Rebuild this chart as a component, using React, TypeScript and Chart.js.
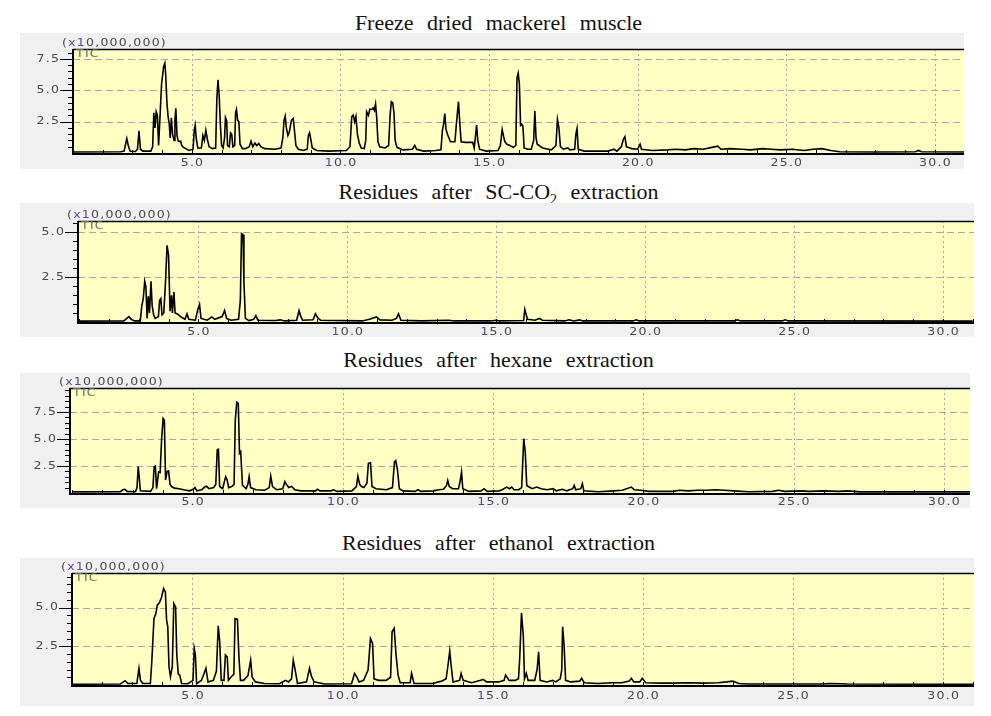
import React, { useEffect, useRef } from 'react';
import { Chart, registerables } from 'chart.js';

Chart.register(...registerables);

// ---- text / ticks ----
const TITLES = [
  'Freeze dried mackerel muscle',
  'Residues after SC-CO|2| extraction',
  'Residues after hexane extraction',
  'Residues after ethanol extraction',
];
const X_TICK_LABELS = [5, 10, 15, 20, 25, 30];
const Y_TICK_LABELS = [2.5, 5.0, 7.5];
const Y_UNIT_LABEL = '(x10,000,000)';
const TRACE_LABEL = 'TIC';

// ---- data: [retention time (min), intensity (x10,000,000)] ----
const FREEZE_DRIED: [number, number][] = [
  [1.0, 0.08], [2.6, 0.1], [2.72, 0.15], [2.81, 1.15], [2.86, 0.6], [2.92, 0.15], [3.1, 0.12], [3.17, 0.3],
  [3.22, 1.76], [3.27, 0.3], [3.35, 0.15], [3.62, 0.15], [3.68, 0.5], [3.72, 3.2], [3.76, 2.0], [3.8, 3.3],
  [3.84, 3.0], [3.88, 0.6], [3.93, 3.0], [3.98, 5.5], [4.05, 6.9], [4.09, 7.16], [4.12, 6.2], [4.16, 4.0],
  [4.2, 2.9], [4.24, 2.3], [4.27, 1.2], [4.31, 2.8], [4.35, 1.5], [4.4, 1.0], [4.43, 2.6], [4.46, 3.56],
  [4.5, 1.4], [4.54, 0.95], [4.58, 0.9], [4.62, 0.95], [4.66, 0.6], [4.72, 0.45], [4.9, 0.2], [5.04, 0.3],
  [5.08, 1.8], [5.11, 2.2], [5.15, 1.1], [5.2, 0.4], [5.32, 0.4], [5.37, 1.4], [5.42, 1.0], [5.47, 1.8],
  [5.52, 1.1], [5.58, 0.5], [5.7, 0.35], [5.8, 0.4], [5.84, 4.35], [5.88, 5.83], [5.92, 4.5], [5.96, 2.2],
  [6.0, 0.6], [6.05, 0.4], [6.1, 1.2], [6.13, 2.83], [6.17, 2.6], [6.2, 0.6], [6.26, 0.5], [6.3, 1.6],
  [6.34, 1.5], [6.38, 0.5], [6.44, 0.6], [6.47, 3.2], [6.5, 3.46], [6.54, 2.6], [6.58, 2.5], [6.62, 0.7],
  [6.7, 0.35], [6.8, 0.35], [6.93, 0.5], [6.99, 0.94], [7.05, 0.5], [7.12, 0.8], [7.18, 0.6], [7.25, 0.75],
  [7.32, 0.5], [7.45, 0.35], [7.8, 0.3], [8.0, 0.4], [8.06, 1.2], [8.1, 2.6], [8.14, 2.94], [8.18, 2.0],
  [8.23, 1.4], [8.28, 1.7], [8.35, 2.6], [8.41, 2.75], [8.46, 1.6], [8.5, 0.6], [8.58, 0.3], [8.75, 0.2],
  [8.88, 0.3], [8.92, 1.4], [8.96, 1.6], [9.0, 1.1], [9.05, 0.4], [9.2, 0.2], [9.6, 0.15], [10.2, 0.2],
  [10.32, 0.5], [10.38, 2.9], [10.43, 3.02], [10.48, 2.5], [10.52, 2.9], [10.57, 1.5], [10.63, 0.8], [10.7, 0.4],
  [10.8, 0.35], [10.85, 1.0], [10.88, 3.29], [10.94, 3.0], [10.99, 3.5], [11.05, 3.47], [11.1, 3.6], [11.14, 3.4],
  [11.18, 3.9], [11.22, 2.8], [11.26, 0.9], [11.32, 0.5], [11.5, 0.4], [11.62, 0.6], [11.67, 3.0], [11.71, 4.09],
  [11.76, 4.0], [11.8, 3.2], [11.84, 1.0], [11.9, 0.45], [12.1, 0.25], [12.42, 0.3], [12.5, 0.6], [12.56, 0.3],
  [12.8, 0.15], [13.2, 0.2], [13.38, 0.25], [13.43, 1.8], [13.47, 2.3], [13.51, 3.15], [13.55, 1.9], [13.6, 1.5],
  [13.65, 1.2], [13.7, 0.9], [13.85, 0.9], [13.9, 2.3], [13.97, 4.09], [14.02, 2.2], [14.06, 0.9], [14.2, 0.85],
  [14.45, 0.85], [14.5, 0.4], [14.55, 1.5], [14.58, 2.22], [14.62, 1.0], [14.68, 0.3], [14.9, 0.15], [15.3, 0.2],
  [15.38, 0.6], [15.44, 1.87], [15.49, 1.3], [15.53, 0.9], [15.6, 0.7], [15.7, 0.6], [15.82, 0.45], [15.9, 0.6],
  [15.94, 6.0], [15.98, 6.36], [16.02, 5.5], [16.06, 2.2], [16.1, 2.3], [16.14, 2.1], [16.18, 0.4], [16.3, 0.3],
  [16.42, 0.3], [16.5, 1.0], [16.54, 3.34], [16.58, 1.2], [16.62, 0.7], [16.8, 0.4], [17.0, 0.3], [17.1, 0.25],
  [17.25, 0.6], [17.3, 2.67], [17.35, 2.0], [17.4, 0.5], [17.5, 0.3], [17.65, 0.4], [17.72, 0.25], [17.88, 0.3],
  [17.92, 1.5], [17.96, 1.95], [18.0, 0.3], [18.2, 0.15], [19.0, 0.15], [19.2, 0.3], [19.3, 0.15], [19.45, 0.5],
  [19.52, 1.1], [19.57, 1.3], [19.62, 0.5], [19.8, 0.35], [20.0, 0.3], [20.08, 0.7], [20.13, 0.3], [20.5, 0.2],
  [21.0, 0.25], [21.3, 0.3], [21.6, 0.25], [21.9, 0.35], [22.2, 0.3], [22.5, 0.45], [22.7, 0.55], [22.8, 0.3],
  [23.1, 0.35], [23.5, 0.3], [23.8, 0.25], [24.2, 0.35], [24.5, 0.3], [24.8, 0.25], [25.2, 0.3], [25.6, 0.2],
  [25.9, 0.3], [26.2, 0.35], [26.5, 0.2], [26.8, 0.1], [28.0, 0.08], [29.35, 0.1], [29.45, 0.2], [29.55, 0.1],
  [31.0, 0.08],
];

const SC_CO2: [number, number][] = [
  [1.0, 0.05], [2.5, 0.06], [2.6, 0.2], [2.67, 0.3], [2.75, 0.15], [2.85, 0.06], [3.05, 0.06], [3.1, 0.87],
  [3.15, 1.3], [3.2, 2.26], [3.24, 1.95], [3.28, 0.2], [3.32, 1.43], [3.36, 0.5], [3.41, 2.26], [3.45, 0.9],
  [3.5, 0.4], [3.55, 0.2], [3.66, 0.3], [3.7, 1.2], [3.74, 1.3], [3.78, 0.4], [3.84, 0.5], [3.9, 2.3],
  [3.95, 4.26], [4.0, 3.7], [4.05, 0.6], [4.1, 1.48], [4.13, 0.5], [4.18, 1.67], [4.22, 0.5], [4.3, 0.45],
  [4.4, 0.3], [4.55, 0.15], [4.62, 0.45], [4.68, 0.15], [4.9, 0.1], [4.98, 0.68], [5.04, 0.97], [5.09, 0.2],
  [5.3, 0.1], [5.45, 0.28], [5.55, 0.15], [5.8, 0.3], [5.88, 0.64], [5.95, 0.2], [6.1, 0.1], [6.35, 0.15],
  [6.41, 1.2], [6.45, 4.91], [6.5, 4.85], [6.53, 2.22], [6.58, 0.2], [6.7, 0.08], [6.86, 0.15], [6.93, 0.35],
  [7.0, 0.1], [7.6, 0.08], [7.75, 0.12], [7.9, 0.06], [8.3, 0.1], [8.38, 0.64], [8.44, 0.3], [8.5, 0.1],
  [8.85, 0.12], [8.93, 0.45], [9.0, 0.25], [9.1, 0.1], [10.5, 0.06], [10.75, 0.15], [10.98, 0.28], [11.1, 0.12],
  [11.5, 0.1], [11.65, 0.2], [11.72, 0.45], [11.8, 0.1], [12.5, 0.06], [13.4, 0.1], [13.6, 0.06], [14.8, 0.06],
  [15.0, 0.1], [15.1, 0.06], [15.92, 0.08], [15.96, 0.7], [16.0, 0.45], [16.05, 0.15], [16.3, 0.1], [16.45, 0.2],
  [16.55, 0.1], [17.3, 0.06], [17.45, 0.12], [17.6, 0.06], [17.8, 0.12], [17.9, 0.06], [19.6, 0.06], [19.7, 0.12],
  [19.8, 0.06], [23.0, 0.06], [23.1, 0.12], [23.2, 0.06], [24.6, 0.06], [24.7, 0.12], [24.8, 0.06], [31.0, 0.05],
];

const HEXANE: [number, number][] = [
  [1.0, 0.1], [2.6, 0.12], [2.68, 0.3], [2.75, 0.34], [2.82, 0.15], [3.1, 0.12], [3.15, 0.5], [3.19, 2.44],
  [3.22, 1.58], [3.26, 0.2], [3.6, 0.15], [3.68, 0.5], [3.72, 2.44], [3.76, 2.5], [3.8, 0.4], [3.87, 1.96],
  [3.92, 1.9], [3.97, 5.06], [4.02, 6.9], [4.06, 6.76], [4.1, 1.2], [4.15, 1.98], [4.2, 2.04], [4.25, 0.8],
  [4.3, 0.6], [4.4, 0.45], [4.55, 0.4], [4.7, 0.3], [4.9, 0.2], [5.02, 0.35], [5.08, 0.5], [5.14, 0.2],
  [5.3, 0.3], [5.4, 0.55], [5.46, 0.62], [5.55, 0.4], [5.7, 0.5], [5.77, 0.78], [5.82, 3.98], [5.86, 4.04],
  [5.9, 0.6], [6.0, 0.4], [6.1, 1.51], [6.15, 1.2], [6.2, 0.5], [6.3, 0.6], [6.38, 0.8], [6.42, 6.76],
  [6.47, 8.4], [6.52, 8.3], [6.56, 3.67], [6.6, 3.83], [6.66, 0.7], [6.78, 0.4], [6.84, 0.8], [6.88, 1.51],
  [6.93, 0.5], [7.1, 0.3], [7.4, 0.25], [7.55, 0.5], [7.6, 1.57], [7.66, 0.6], [7.8, 0.3], [8.0, 0.4],
  [8.07, 1.05], [8.12, 0.8], [8.2, 0.5], [8.3, 0.6], [8.4, 0.3], [8.6, 0.2], [9.1, 0.2], [9.15, 0.35],
  [9.25, 0.2], [9.6, 0.2], [9.7, 0.3], [9.8, 0.15], [10.3, 0.2], [10.45, 0.6], [10.5, 1.57], [10.56, 0.8],
  [10.62, 0.6], [10.7, 0.5], [10.8, 0.9], [10.85, 2.75], [10.92, 2.8], [10.97, 0.6], [11.1, 0.4], [11.45, 0.3],
  [11.65, 0.5], [11.72, 2.9], [11.76, 3.0], [11.82, 2.1], [11.88, 0.4], [12.0, 0.2], [12.4, 0.15], [12.5, 0.3],
  [12.6, 0.15], [13.0, 0.2], [13.2, 0.3], [13.35, 0.35], [13.45, 0.7], [13.49, 1.17], [13.54, 0.6], [13.65, 0.4],
  [13.85, 0.4], [13.91, 1.2], [13.95, 1.94], [13.99, 0.4], [14.2, 0.15], [14.6, 0.2], [14.7, 0.4], [14.8, 0.15],
  [15.2, 0.2], [15.3, 0.3], [15.45, 0.55], [15.55, 0.4], [15.62, 0.55], [15.7, 0.3], [15.85, 0.3], [15.95, 0.5],
  [16.02, 5.03], [16.07, 3.8], [16.12, 0.7], [16.2, 0.55], [16.3, 0.4], [16.45, 0.55], [16.6, 0.4], [16.8, 0.3],
  [17.0, 0.4], [17.1, 0.2], [17.3, 0.35], [17.45, 0.2], [17.65, 0.4], [17.7, 0.7], [17.75, 0.3], [17.92, 0.4],
  [17.97, 0.86], [18.02, 0.2], [18.5, 0.12], [19.0, 0.2], [19.3, 0.25], [19.6, 0.55], [19.7, 0.3], [19.9, 0.25],
  [20.2, 0.15], [21.0, 0.15], [21.2, 0.25], [21.5, 0.2], [21.8, 0.25], [22.1, 0.25], [22.4, 0.3], [22.7, 0.25],
  [23.0, 0.2], [23.5, 0.12], [24.3, 0.15], [24.5, 0.25], [24.7, 0.15], [25.3, 0.2], [25.5, 0.15], [26.0, 0.2],
  [26.5, 0.15], [26.8, 0.2], [27.2, 0.1], [31.0, 0.1],
];

const ETHANOL: [number, number][] = [
  [1.0, 0.05], [2.6, 0.06], [2.7, 0.2], [2.76, 0.28], [2.85, 0.1], [3.15, 0.1], [3.22, 1.08], [3.27, 0.3],
  [3.35, 0.1], [3.6, 0.1], [3.65, 1.6], [3.72, 4.3], [3.78, 4.6], [3.83, 5.16], [3.9, 5.31], [3.97, 5.66],
  [4.04, 6.24], [4.1, 6.02], [4.14, 4.2], [4.18, 3.76], [4.22, 1.18], [4.27, 0.54], [4.33, 1.18], [4.38, 5.27],
  [4.44, 5.05], [4.48, 1.94], [4.53, 0.7], [4.58, 0.63], [4.64, 0.1], [4.85, 0.08], [5.02, 0.3], [5.06, 2.37],
  [5.1, 1.94], [5.14, 0.08], [5.3, 0.3], [5.38, 0.7], [5.45, 1.08], [5.52, 0.2], [5.7, 0.3], [5.8, 0.9],
  [5.86, 3.83], [5.91, 2.79], [5.96, 0.3], [6.05, 0.3], [6.1, 1.94], [6.16, 1.8], [6.2, 0.3], [6.28, 0.5],
  [6.38, 0.7], [6.42, 4.3], [6.5, 4.25], [6.55, 1.8], [6.6, 0.3], [6.7, 0.3], [6.85, 0.6], [6.94, 1.61],
  [6.99, 0.5], [7.1, 0.2], [7.4, 0.1], [7.9, 0.08], [8.1, 0.3], [8.2, 0.2], [8.3, 0.4], [8.36, 1.61],
  [8.42, 1.0], [8.5, 0.1], [8.8, 0.2], [8.9, 1.08], [8.96, 0.6], [9.05, 0.2], [9.4, 0.06], [10.3, 0.08],
  [10.4, 0.75], [10.48, 0.5], [10.55, 0.2], [10.7, 0.3], [10.85, 0.97], [10.93, 3.0], [11.0, 2.69], [11.05, 0.4],
  [11.2, 0.3], [11.45, 0.3], [11.6, 0.5], [11.65, 3.44], [11.72, 3.66], [11.78, 2.0], [11.85, 0.64], [11.92, 0.15],
  [12.25, 0.15], [12.3, 0.75], [12.38, 0.1], [13.0, 0.1], [13.3, 0.25], [13.45, 0.4], [13.52, 1.39], [13.57, 2.19],
  [13.62, 1.2], [13.68, 0.2], [13.9, 0.3], [13.95, 0.75], [14.02, 0.3], [14.3, 0.15], [14.6, 0.3], [14.68, 0.36],
  [14.8, 0.2], [15.2, 0.2], [15.38, 0.3], [15.43, 0.64], [15.55, 0.3], [15.75, 0.3], [15.86, 0.4], [15.9, 1.72],
  [15.96, 4.66], [16.02, 3.2], [16.06, 0.4], [16.12, 0.75], [16.18, 0.3], [16.4, 0.3], [16.48, 1.0], [16.53, 2.15],
  [16.58, 0.3], [16.8, 0.2], [17.0, 0.3], [17.1, 0.2], [17.25, 0.4], [17.3, 0.97], [17.33, 3.76], [17.38, 2.5],
  [17.43, 0.3], [17.6, 0.2], [17.9, 0.25], [17.96, 0.43], [18.05, 0.15], [18.5, 0.1], [19.0, 0.15], [19.3, 0.15],
  [19.55, 0.25], [19.62, 0.43], [19.7, 0.2], [19.9, 0.2], [19.98, 0.43], [20.1, 0.15], [20.6, 0.12], [21.0, 0.12],
  [21.5, 0.15], [22.0, 0.12], [22.5, 0.15], [22.8, 0.2], [23.0, 0.25], [23.2, 0.1], [23.5, 0.06], [26.0, 0.06],
  [26.2, 0.1], [26.6, 0.08], [26.8, 0.06], [31.0, 0.05],
];

// ---- layout (page pixels) ----
type Rect = { l: number; t: number; r: number; b: number };
type PanelDef = {
  box: Rect; plot: Rect; xMin: number; xMax: number; yMax: number;
  data: [number, number][]; labelDy: number; titleTop: number;
};

const PANELS: PanelDef[] = [
  { box: { l: 20, t: 33, r: 964, b: 169 }, plot: { l: 73, t: 49, r: 964, b: 153 }, xMin: 1.0, xMax: 30.98, yMax: 8.29, data: FREEZE_DRIED, labelDy: 10, titleTop: 12 },
  { box: { l: 20, t: 203, r: 974, b: 337 }, plot: { l: 78, t: 221, r: 974, b: 322 }, xMin: 0.96, xMax: 31.04, yMax: 5.61, data: SC_CO2, labelDy: 10, titleTop: 181 },
  { box: { l: 20, t: 373, r: 970, b: 508 }, plot: { l: 70, t: 388, r: 970, b: 493 }, xMin: 0.92, xMax: 30.87, yMax: 9.72, data: HEXANE, labelDy: 9.5, titleTop: 349 },
  { box: { l: 20, t: 558, r: 974, b: 706 }, plot: { l: 72, t: 573, r: 974, b: 685 }, xMin: 0.99, xMax: 31.03, yMax: 7.24, data: ETHANOL, labelDy: 11, titleTop: 532 },
];

const LABEL_FONT = '10px "DejaVu Sans"';
const LABEL_GRAY = '#484848';
const LABEL_PURPLE = '#64448c';

function drawSpaced(ctx: CanvasRenderingContext2D, text: string, x: number, y: number, align: 'left' | 'center' | 'right', color: (ch: string) => string) {
  const sx = 1.25, spacing = 1;
  ctx.font = LABEL_FONT;
  ctx.textAlign = 'left';
  ctx.textBaseline = 'middle';
  const chars = [...text];
  const widths = chars.map((c) => ctx.measureText(c).width);
  const total = (widths.reduce((a, b) => a + b, 0) + spacing * (chars.length - 1)) * sx;
  let cx = align === 'center' ? x - total / 2 : align === 'right' ? x - total : x;
  chars.forEach((c, i) => {
    ctx.save();
    ctx.translate(cx, y);
    ctx.scale(sx, 1);
    ctx.fillStyle = color(c);
    ctx.fillText(c, 0, 0);
    ctx.restore();
    cx += (widths[i] + spacing) * sx;
  });
}

const tickColor = (c: string) => (c === '1' || c === 'x' ? LABEL_PURPLE : LABEL_GRAY);

const decoPlugin = {
  id: 'deco',
  beforeDatasetsDraw(chart: any) {
    const { ctx, chartArea: a, scales } = chart;
    const xs = scales.x, ys = scales.y;
    ctx.save();
    ctx.fillStyle = '#ffffc4';
    ctx.fillRect(a.left, a.top, a.right - a.left, a.bottom - a.top);
    ctx.strokeStyle = '#a8a8a8';
    ctx.lineWidth = 1;
    ctx.setLineDash([2, 3]);
    for (const v of X_TICK_LABELS) {
      const px = Math.round(xs.getPixelForValue(v)) + 0.5;
      ctx.beginPath(); ctx.moveTo(px, a.top); ctx.lineTo(px, a.bottom); ctx.stroke();
    }
    ctx.setLineDash([7, 4]);
    for (const v of Y_TICK_LABELS) {
      if (v > ys.max) continue;
      const py = Math.round(ys.getPixelForValue(v)) + 0.5;
      ctx.beginPath(); ctx.moveTo(a.left, py); ctx.lineTo(a.right, py); ctx.stroke();
    }
    ctx.restore();
  },
  afterDatasetsDraw(chart: any, _args: any, opts: any) {
    const { ctx, chartArea: a, scales } = chart;
    const xs = scales.x, ys = scales.y;
    ctx.save();
    ctx.strokeStyle = '#000';
    // top border
    ctx.lineWidth = 1.5;
    ctx.beginPath(); ctx.moveTo(a.left, a.top + 0.5); ctx.lineTo(a.right, a.top + 0.5); ctx.stroke();
    // axes
    ctx.lineWidth = 2;
    ctx.beginPath(); ctx.moveTo(a.left, a.top); ctx.lineTo(a.left, a.bottom + 1); ctx.lineTo(a.right, a.bottom + 1); ctx.stroke();
    // y ticks
    ctx.lineWidth = 1;
    for (let v = 0.5; v <= ys.max + 1e-6; v += 0.5) {
      const py = Math.round(ys.getPixelForValue(v)) + 0.5;
      const major = Math.abs(v / 2.5 - Math.round(v / 2.5)) < 1e-6;
      ctx.beginPath(); ctx.moveTo(a.left - (major ? 13 : 5), py); ctx.lineTo(a.left, py); ctx.stroke();
    }
    // x ticks
    for (let v = Math.ceil(xs.min); v <= xs.max; v += 1) {
      const px = Math.round(xs.getPixelForValue(v)) + 0.5;
      ctx.beginPath(); ctx.moveTo(px, a.bottom - 3); ctx.lineTo(px, a.bottom + 2); ctx.stroke();
    }
    // labels
    for (const v of Y_TICK_LABELS) {
      if (v > ys.max) continue;
      drawSpaced(ctx, v.toFixed(1), a.left - 14, ys.getPixelForValue(v), 'right', tickColor);
    }
    for (const v of X_TICK_LABELS) {
      drawSpaced(ctx, v.toFixed(1), xs.getPixelForValue(v), a.bottom + opts.labelDy, 'center', tickColor);
    }
    drawSpaced(ctx, Y_UNIT_LABEL, a.left - 11, a.top - 6, 'left', tickColor);
    drawSpaced(ctx, TRACE_LABEL, a.left + 3, a.top + 5, 'left', () => '#68705c');
    ctx.restore();
  },
};

function Panel({ def }: { def: PanelDef }) {
  const ref = useRef<HTMLCanvasElement | null>(null);
  const w = def.box.r - def.box.l;
  const h = def.box.b - def.box.t;
  useEffect(() => {
    if (!ref.current) return;
    const chart = new Chart(ref.current, {
      type: 'line',
      data: {
        datasets: [{
          data: def.data.map(([x, y]) => ({ x, y })),
          borderColor: '#000',
          borderWidth: 1.6,
          pointRadius: 0,
          tension: 0,
          fill: false,
        }],
      },
      options: {
        responsive: false,
        animation: false,
        events: [],
        layout: {
          padding: {
            left: def.plot.l - def.box.l,
            top: def.plot.t - def.box.t,
            right: def.box.r - def.plot.r,
            bottom: def.box.b - def.plot.b,
          },
        },
        scales: {
          x: { type: 'linear', min: def.xMin, max: def.xMax, display: false },
          y: { type: 'linear', min: 0, max: def.yMax, display: false },
        },
        plugins: {
          legend: { display: false },
          tooltip: { enabled: false },
          deco: { labelDy: def.labelDy },
        } as any,
      },
      plugins: [decoPlugin as any],
    });
    return () => chart.destroy();
  }, [def]);
  return (
    <canvas
      ref={ref}
      width={w}
      height={h}
      style={{ position: 'absolute', left: def.box.l, top: def.box.t, width: w, height: h, background: '#f0f0f0' }}
    />
  );
}

function Title({ text, top }: { text: string; top: number }) {
  const parts = text.split('|');
  return (
    <div
      style={{
        position: 'absolute', left: 0, top, width: 997, textAlign: 'center',
        fontFamily: '"Liberation Serif", "Times New Roman", serif', fontSize: 22, lineHeight: '22px',
        wordSpacing: 8, color: '#111', whiteSpace: 'nowrap',
      }}
    >
      {parts.map((p, i) => (i % 2 === 1
        ? <span key={i} style={{ fontSize: 14, lineHeight: '0', position: 'relative', top: 5, fontStyle: 'normal' }}>{p}</span>
        : <span key={i}>{p}</span>))}
    </div>
  );
}

export default function App() {
  return (
    <div style={{ position: 'absolute', left: 0, top: 0, width: 991, height: 716, background: '#fff', overflow: 'hidden' }}>
      {PANELS.map((p, i) => (
        <React.Fragment key={i}>
          <Title text={TITLES[i]} top={p.titleTop} />
          <Panel def={p} />
        </React.Fragment>
      ))}
    </div>
  );
}
